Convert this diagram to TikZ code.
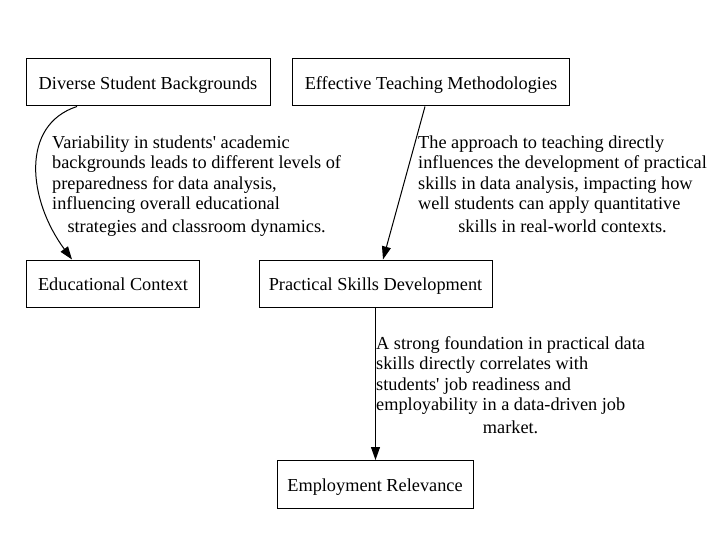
\documentclass[tikz,border=0pt]{standalone}
\usepackage{fontspec}
\setmainfont{Liberation Serif}
\usetikzlibrary{arrows.meta}
\tikzset{
  box/.style={draw, line width=1pt, rectangle, inner sep=0pt, text height=14.5pt, text depth=0pt, font=\fontsize{18.3}{20.5}\selectfont},
  edge/.style={line width=1pt, -{Triangle[length=13pt,width=9pt]}},
  lbl/.style={anchor=base west, inner sep=0pt, font=\fontsize{18.3}{20.5}\selectfont}
}
\begin{document}
\begin{tikzpicture}[x=1pt,y=-1pt]
\useasboundingbox (0,0) rectangle (713,535);
\node[box, minimum width=244pt, minimum height=47pt] (dsb) at (148,82.5) {Diverse Student Backgrounds};
\node[box, minimum width=277pt, minimum height=47pt] (etm) at (431,82.5) {Effective Teaching Methodologies};
\node[box, minimum width=173pt, minimum height=47pt] (ec) at (113,283.5) {Educational Context};
\node[box, minimum width=233pt, minimum height=47pt] (psd) at (375.5,283.5) {Practical Skills Development};
\node[box, minimum width=196pt, minimum height=48pt] (er) at (375,484.5) {Employment Relevance};

\draw[edge] ([xshift=-71pt]dsb.south) .. controls (20,125) and (28,200) .. ([xshift=-41pt]ec.north);
\draw[edge] ([xshift=-6pt]etm.south) -- ([xshift=7.5pt]psd.north);
\draw[edge] (psd.south) -- (psd.south |- er.north);

\node[lbl] (l1) at (52,148) {\begin{tabular}[t]{@{}l@{}}Variability in students\textquotesingle{} academic\\ backgrounds leads to different levels of\\ preparedness for data analysis,\\ influencing overall educational\\[2.5pt] \multicolumn{1}{@{}c@{}}{strategies and classroom dynamics.}\end{tabular}};
\node[lbl] (l2) at (418,148) {\begin{tabular}[t]{@{}l@{}}The approach to teaching directly\\ influences the development of practical\\ skills in data analysis, impacting how\\ well students can apply quantitative\\[2.5pt] \multicolumn{1}{@{}c@{}}{skills in real-world contexts.}\end{tabular}};
\node[lbl] (l3) at (376,349) {\begin{tabular}[t]{@{}l@{}}A strong foundation in practical data\\ skills directly correlates with\\ students\textquotesingle{} job readiness and\\ employability in a data-driven job\\[2.5pt] \multicolumn{1}{@{}c@{}}{market.}\end{tabular}};
\end{tikzpicture}
\end{document}
